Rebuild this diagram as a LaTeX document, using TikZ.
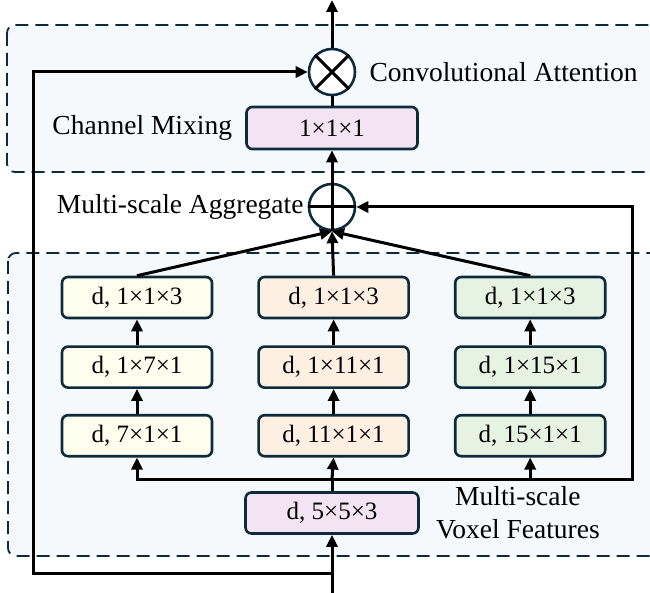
\documentclass[tikz,border=0pt]{standalone}
\usepackage{xcolor}
\usepackage{fontspec}
\setmainfont{Liberation Serif}
\usetikzlibrary{arrows.meta, positioning}

\definecolor{edge}{HTML}{0F2B3B}
\definecolor{panel}{HTML}{F5F9FB}
\definecolor{mixfill}{HTML}{F2E4F2}
\definecolor{ylwfill}{HTML}{FEFEEE}
\definecolor{orgfill}{HTML}{FDF0E2}
\definecolor{grnfill}{HTML}{E6F3E2}

\begin{document}
\begin{tikzpicture}[
    x=1pt, y=-1pt,
    font=\fontsize{27.5}{33}\selectfont,
    box/.style={
      draw=edge, line width=2.6pt, rounded corners=6pt,
      minimum width=150pt, minimum height=41pt,
      inner sep=0pt, font=\fontsize{25}{29}\selectfont
    },
    op/.style={circle, draw=edge, line width=2.6pt, fill=white,
      minimum size=46pt, inner sep=0pt},
    panelbox/.style={draw=edge, line width=1.8pt, fill=panel,
      dash pattern=on 13pt off 7pt, rounded corners=8pt},
    lbl/.style={inner sep=0pt},
    line/.style={line width=3pt},
    arrow/.style={line width=3pt, -{Triangle[length=12pt, width=11pt]}}
]
\useasboundingbox (0,0) rectangle (650,593);

% --- Dashed panels ---
\draw[panelbox] (7,25) rectangle (670,172);
\draw[panelbox] (8,253) rectangle (670,556);

% --- Top part ---
\node[op] (conv) at (332,72) {};
\draw[line] (conv.north west) -- (conv.south east);
\draw[line] (conv.north east) -- (conv.south west);
\node[lbl, right=13pt of conv] (convlbl) {Convolutional Attention};

\node[box, fill=mixfill, minimum width=171pt, minimum height=42pt] (mix) at (332,128) {1×1×1};
\node[lbl, left=13pt of mix] (mixlbl) {Channel Mixing};

\node[op] (agg) at (332,207) {};
\draw[line] (agg.north) -- (agg.south);
\draw[line] (agg.west) -- (agg.east);
\node[lbl, left=4pt of agg] (agglbl) {Multi-scale Aggregate};

% --- Branch columns ---
\node[box, fill=ylwfill] (k7c) at (137,297.5) {d, 1×1×3};
\node[box, fill=ylwfill, below=26pt of k7c] (k7b) {d, 1×7×1};
\node[box, fill=ylwfill, below=25pt of k7b] (k7a) {d, 7×1×1};

\node[box, fill=orgfill, right=44pt of k7c] (k11c) {d, 1×1×3};
\node[box, fill=orgfill, below=26pt of k11c] (k11b) {d, 1×11×1};
\node[box, fill=orgfill, below=25pt of k11b] (k11a) {d, 11×1×1};

\node[box, fill=grnfill, right=44pt of k11c] (k15c) {d, 1×1×3};
\node[box, fill=grnfill, below=26pt of k15c] (k15b) {d, 1×15×1};
\node[box, fill=grnfill, below=25pt of k15b] (k15a) {d, 15×1×1};

% --- Input block ---
\node[box, fill=mixfill, minimum width=173pt] (base) at (332,513) {d, 5×5×3};
\node[lbl, right=16pt of base, align=center] (baselbl) {Multi-scale\\Voxel Features};

\coordinate (in) at (332,593);
\coordinate (tap) at (332,573);
\coordinate (skip) at (33,573);
\coordinate (bus) at (332,479);
\coordinate (rtop) at (632,207);
\coordinate (out) at (332,0);

% --- Arrows ---
\draw[arrow] (in) -- (base.south);
\draw[arrow] (tap) -- (skip) |- (conv.west);
\draw[line] (base.north) -- (bus);
\draw[arrow] (bus) -- (k11a.south);
\draw[arrow] (bus) -| (k7a.south);
\draw[arrow] (bus) -| (k15a.south);
\draw[arrow] (bus) -| (rtop) -- (agg.east);

\foreach \k in {k7, k11, k15} {
  \draw[arrow] (\k a.north) -- (\k b.south);
  \draw[arrow] (\k b.north) -- (\k c.south);
  \draw[arrow] (\k c.north) -- (agg.south);
}

\draw[arrow] (agg.north) -- (mix.south);
\draw[line] (mix.north) -- (conv.south);
\draw[arrow] (conv.north) -- (out);

\end{tikzpicture}
\end{document}
